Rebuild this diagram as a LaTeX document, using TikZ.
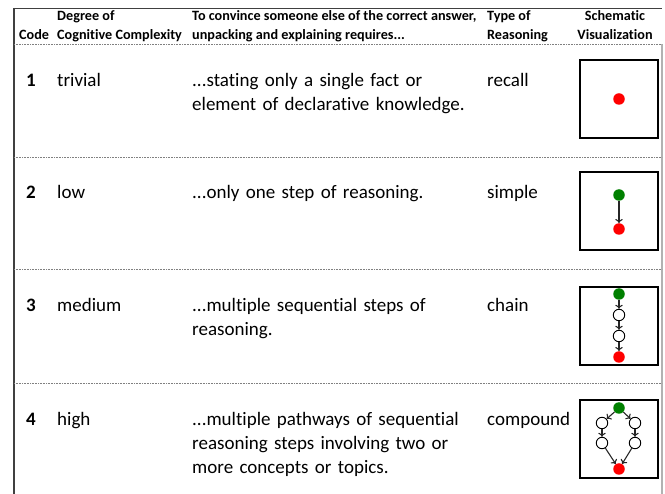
\documentclass[tikz,border=0pt]{standalone}
\usepackage{fontspec}
\setmainfont[Ligatures=NoCommon]{Carlito}
\usetikzlibrary{arrows.meta}

\begin{document}
\begin{tikzpicture}[x=1pt,y=-1pt,
  head/.style={anchor=base west,inner sep=0,font=\fontsize{14.2}{19}\selectfont\bfseries,align=left},
  cell/.style={anchor=base west,inner sep=0,font=\fontsize{19}{24}\selectfont},
  wide/.style={cell,text width=300pt,align=left},
  code/.style={anchor=base west,inner sep=0,font=\fontsize{19}{24}\selectfont\bfseries},
  sep/.style={gray,densely dotted,line width=0.6pt},
  frame/.style={draw,line width=1.3pt,minimum size=78pt,inner sep=0},
  start/.style={circle,fill=green!50!black,minimum size=11.5pt,inner sep=0},
  goal/.style={circle,fill=red,minimum size=11.5pt,inner sep=0},
  mid/.style={circle,draw,fill=white,line width=0.9pt,minimum size=11.5pt,inner sep=0},
  flow/.style={-{To[length=4pt,width=7.5pt]},line width=1.1pt,black!85}
]
\useasboundingbox (0,0) rectangle (665,494);

\coordinate(topleft) at (14,8);
\coordinate(topright) at (662,8);

% table rules
\draw[black!75,line width=1.5pt] (topleft) to (14,494);
\draw[black!75,line width=0.8pt] (topleft) to (topright);
\draw[gray!60,line width=2pt] (662,44) to (662,494);
\foreach \y in {44,157,269,383}
  \draw[sep] (14,\y) to (662,\y);

% header (base = last line)
\node[head] (hcode) at (19,40) {Code};
\node[head] (hdeg) at (57,40) {Degree of\\Cognitive Complexity};
\node[head] (hreq) at (192,40) {To convince someone else of the correct answer,\\unpacking and explaining requires...};
\node[head] (htype) at (487,40) {Type of\\Reasoning};
\node[head,align=center,anchor=base] (hvis) at (615,40) {Schematic\\Visualization};

% rows
\node[code] (c1) at (26,87) {1};
\node[cell] (d1) at (57,87) {trivial};
\node[wide] (r1) at (192,87) {...stating only a single fact or\\element of declarative knowledge.};
\node[cell] (t1) at (487,87) {recall};

\node[code] (c2) at (26,199) {2};
\node[cell] (d2) at (57,199) {low};
\node[wide] (r2) at (192,199) {...only one step of reasoning.};
\node[cell] (t2) at (487,199) {simple};

\node[code] (c3) at (26,312) {3};
\node[cell] (d3) at (57,312) {medium};
\node[wide] (r3) at (192,312) {...multiple sequential steps of\\reasoning.};
\node[cell] (t3) at (487,312) {chain};

\node[code] (c4) at (26,426) {4};
\node[cell] (d4) at (57,426) {high};
\node[wide] (r4) at (192,426) {...multiple pathways of sequential\\reasoning steps involving two or\\more concepts or topics.};
\node[cell] (t4) at (487,426) {compound};

% schematics
\node[frame] (box1) at (619,99) {};
\node[goal] (g1) at (619,99) {};

\node[frame] (box2) at (619,211) {};
\node[start] (s2) at (619,195) {};
\node[goal] (g2) at (619,229) {};
\draw[flow] (s2) to (g2);

\node[frame] (box3) at (619,326) {};
\node[start] (s3) at (619,294) {};
\node[mid] (m3a) at (619,315) {};
\node[mid] (m3b) at (619,336) {};
\node[goal] (g3) at (619,357) {};
\draw[flow] (s3) to (m3a);
\draw[flow] (m3a) to (m3b);
\draw[flow] (m3b) to (g3);

\node[frame] (box4) at (619,439) {};
\node[start] (s4) at (619,408) {};
\node[mid] (l4a) at (602,423) {};
\node[mid] (l4b) at (602,443) {};
\node[mid] (r4a) at (635,423) {};
\node[mid] (r4b) at (635,443) {};
\node[goal] (g4) at (619,469) {};
\draw[flow] (s4) to (l4a);
\draw[flow] (s4) to (r4a);
\draw[flow] (l4a) to (l4b);
\draw[flow] (r4a) to (r4b);
\draw[flow] (l4b) to (g4);
\draw[flow] (r4b) to (g4);

\end{tikzpicture}
\end{document}
